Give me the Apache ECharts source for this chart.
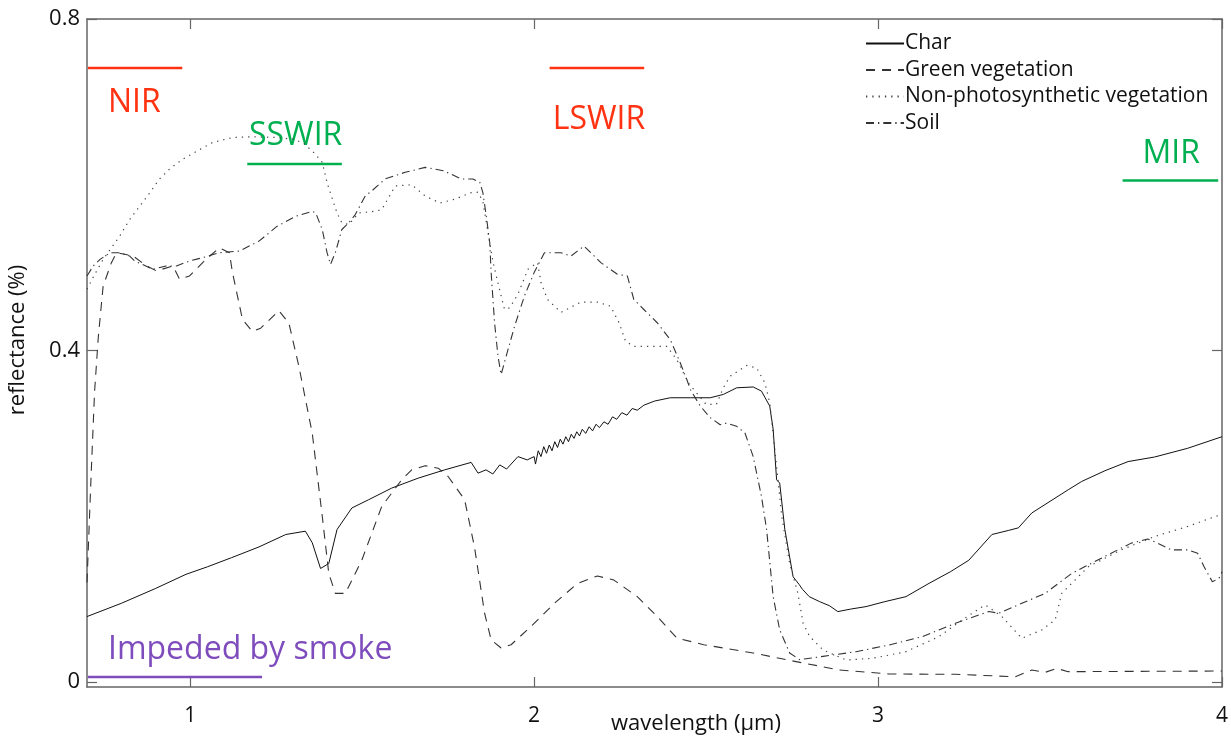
<!DOCTYPE html>
<html><head><meta charset="utf-8">
<script src="https://cdn.jsdelivr.net/npm/echarts@6/dist/echarts.min.js"></script>
<style>html,body{margin:0;padding:0;background:#fff}#c{width:1231px;height:739px}</style>
</head><body><div id="c"></div>
<script>
var seriesNames = ['Char', 'Green vegetation', 'Non-photosynthetic vegetation', 'Soil'];
var xTicks = [1, 2, 3, 4];
var yTicks = [0, 0.4, 0.8];

var charData = [[0.70,0.079],[0.80,0.095],[0.90,0.113],[0.988,0.130],[1.05,0.139],[1.12,0.150],[1.20,0.163],[1.278,0.178],[1.335,0.182],[1.355,0.168],[1.379,0.137],[1.403,0.143],[1.427,0.184],[1.47,0.210],[1.519,0.220],[1.586,0.234],[1.663,0.246],[1.74,0.256],[1.817,0.265],[1.837,0.252],[1.86,0.256],[1.88,0.251],[1.90,0.262],[1.92,0.257],[1.953,0.272],[1.98,0.268],[2.0,0.272],[2.004,0.263],[2.012,0.279],[2.02,0.272],[2.028,0.284],[2.036,0.276],[2.044,0.286],[2.052,0.279],[2.06,0.290],[2.068,0.283],[2.076,0.293],[2.084,0.287],[2.092,0.296],[2.10,0.290],[2.108,0.299],[2.116,0.294],[2.124,0.302],[2.132,0.297],[2.14,0.305],[2.15,0.300],[2.16,0.308],[2.17,0.303],[2.18,0.311],[2.19,0.307],[2.203,0.314],[2.215,0.311],[2.228,0.320],[2.24,0.317],[2.255,0.325],[2.27,0.322],[2.285,0.330],[2.30,0.328],[2.319,0.334],[2.35,0.339],[2.396,0.343],[2.454,0.343],[2.512,0.343],[2.55,0.347],[2.589,0.355],[2.637,0.356],[2.661,0.351],[2.685,0.333],[2.695,0.305],[2.705,0.244],[2.714,0.240],[2.729,0.184],[2.753,0.127],[2.77,0.118],[2.78,0.112],[2.80,0.103],[2.83,0.097],[2.859,0.092],[2.883,0.085],[2.92,0.088],[2.965,0.091],[3.02,0.097],[3.081,0.103],[3.148,0.119],[3.21,0.133],[3.264,0.147],[3.331,0.178],[3.38,0.183],[3.408,0.186],[3.447,0.204],[3.50,0.218],[3.553,0.232],[3.592,0.242],[3.66,0.255],[3.727,0.266],[3.804,0.2715],[3.90,0.282],[4.0,0.296]];

var greenData = [[0.70,0.12],[0.712,0.25],[0.722,0.35],[0.733,0.417],[0.747,0.478],[0.771,0.506],[0.786,0.518],[0.834,0.514],[0.87,0.503],[0.902,0.496],[0.95,0.502],[0.969,0.486],[0.998,0.49],[1.046,0.51],[1.085,0.524],[1.114,0.518],[1.123,0.494],[1.152,0.4375],[1.181,0.423],[1.205,0.427],[1.258,0.448],[1.287,0.433],[1.316,0.381],[1.355,0.30],[1.384,0.20],[1.403,0.131],[1.422,0.107],[1.451,0.107],[1.499,0.147],[1.557,0.212],[1.615,0.244],[1.644,0.256],[1.683,0.261],[1.721,0.258],[1.75,0.248],[1.798,0.22],[1.827,0.162],[1.856,0.083],[1.875,0.051],[1.904,0.041],[1.933,0.045],[1.991,0.067],[2.059,0.095],[2.126,0.119],[2.184,0.128],[2.232,0.123],[2.30,0.103],[2.358,0.079],[2.415,0.053],[2.493,0.045],[2.637,0.035],[2.782,0.023],[2.888,0.0145],[3.032,0.0097],[3.225,0.0093],[3.399,0.0064],[3.447,0.0145],[3.486,0.0117],[3.519,0.0165],[3.553,0.0125],[4.0,0.0133]];

var npvData = [[0.70,0.474],[0.72,0.49],[0.747,0.51],[0.795,0.538],[0.824,0.558],[0.853,0.574],[0.882,0.59],[0.911,0.607],[0.94,0.619],[0.979,0.631],[1.017,0.640],[1.065,0.651],[1.123,0.657],[1.18,0.658],[1.249,0.657],[1.30,0.655],[1.33,0.650],[1.364,0.637],[1.384,0.627],[1.398,0.6025],[1.412,0.5845],[1.427,0.566],[1.441,0.554],[1.461,0.552],[1.49,0.566],[1.538,0.568],[1.557,0.570],[1.596,0.5985],[1.644,0.600],[1.683,0.5865],[1.726,0.578],[1.769,0.5825],[1.817,0.5905],[1.837,0.591],[1.851,0.580],[1.866,0.542],[1.88,0.508],[1.89,0.49],[1.904,0.466],[1.914,0.4495],[1.929,0.4515],[1.953,0.468],[1.982,0.498],[2.01,0.506],[2.02,0.482],[2.039,0.4615],[2.078,0.446],[2.136,0.4585],[2.184,0.4585],[2.222,0.4535],[2.247,0.4335],[2.266,0.411],[2.29,0.405],[2.386,0.405],[2.415,0.389],[2.45,0.36],[2.50,0.335],[2.53,0.335],[2.55,0.355],[2.57,0.369],[2.618,0.382],[2.647,0.379],[2.671,0.361],[2.685,0.337],[2.70,0.28],[2.72,0.20],[2.743,0.143],[2.767,0.107],[2.782,0.071],[2.801,0.055],[2.84,0.0387],[2.907,0.0266],[2.984,0.0286],[3.081,0.0366],[3.177,0.0548],[3.245,0.075],[3.303,0.091],[3.312,0.093],[3.36,0.079],[3.418,0.0528],[3.476,0.0628],[3.515,0.075],[3.534,0.107],[3.611,0.139],[3.707,0.1595],[3.804,0.1756],[3.90,0.1877],[3.982,0.20],[4.0,0.202]];

var soilData = [[0.70,0.49],[0.718,0.502],[0.738,0.51],[0.767,0.518],[0.795,0.518],[0.824,0.514],[0.839,0.508],[0.892,0.498],[0.93,0.502],[0.96,0.502],[0.998,0.508],[1.036,0.512],[1.085,0.518],[1.143,0.52],[1.20,0.532],[1.253,0.550],[1.307,0.562],[1.355,0.568],[1.365,0.566],[1.384,0.546],[1.398,0.518],[1.408,0.504],[1.422,0.518],[1.441,0.546],[1.461,0.554],[1.48,0.564],[1.509,0.5865],[1.528,0.5925],[1.567,0.607],[1.625,0.615],[1.683,0.621],[1.736,0.617],[1.789,0.607],[1.822,0.607],[1.842,0.603],[1.851,0.5905],[1.861,0.562],[1.871,0.530],[1.875,0.494],[1.885,0.4335],[1.895,0.393],[1.904,0.371],[1.924,0.401],[1.943,0.429],[1.972,0.466],[2.0,0.494],[2.03,0.518],[2.078,0.518],[2.107,0.514],[2.145,0.526],[2.165,0.518],[2.194,0.506],[2.242,0.492],[2.271,0.49],[2.29,0.4615],[2.319,0.4495],[2.358,0.4335],[2.396,0.413],[2.425,0.385],[2.444,0.365],[2.454,0.353],[2.483,0.333],[2.512,0.319],[2.541,0.3105],[2.56,0.3125],[2.589,0.3085],[2.613,0.3005],[2.637,0.272],[2.661,0.224],[2.676,0.184],[2.695,0.103],[2.714,0.063],[2.743,0.035],[2.772,0.027],[2.84,0.031],[2.936,0.0366],[3.032,0.0447],[3.129,0.0548],[3.225,0.071],[3.322,0.085],[3.351,0.083],[3.418,0.095],[3.486,0.107],[3.563,0.131],[3.659,0.1515],[3.736,0.1676],[3.784,0.1725],[3.813,0.1676],[3.852,0.1595],[3.90,0.1595],[3.929,0.1555],[3.948,0.139],[3.972,0.121],[3.991,0.125],[4.0,0.133]];

// spectral band ranges (µm) and the reflectance level at which each bar is drawn
var bandNames = ['NIR', 'SSWIR', 'LSWIR', 'MIR', 'Impeded by smoke'];
var bandStart = [0.703, 1.166, 2.045, 3.711, 0.703];
var bandEnd = [0.977, 1.441, 2.32, 3.989, 1.209];
var bandLevel = [0.741, 0.625, 0.741, 0.605, 0.006];
var bandLabelX = [0.761, 1.171, 2.054, 3.769, 0.761];
var bandLabelY = [0.6985, 0.659, 0.678, 0.637, 0.0387];

var RED = '#ff3311', GREEN = '#00b050', PURPLE = '#7e4cbc';
var bandColors = [RED, GREEN, RED, GREEN, PURPLE];
var FONT = '"Open Sans", "Noto Sans", sans-serif';

var chart = echarts.init(document.getElementById('c'), null, {renderer: 'canvas'});

var axisLineStyle = {color: '#666', width: 1.5};
var series = [
  {name: seriesNames[0], type: 'line', data: charData, symbol: 'none', lineStyle: {color: '#111', width: 1, type: 'solid'}, itemStyle: {color: '#111'}},
  {name: seriesNames[1], type: 'line', data: greenData, symbol: 'none', lineStyle: {color: '#333', width: 1.1, type: [9, 7]}, itemStyle: {color: '#333'}},
  {name: seriesNames[2], type: 'line', data: npvData, symbol: 'none', lineStyle: {color: '#444', width: 1.2, type: [1.3, 5]}, itemStyle: {color: '#444'}},
  {name: seriesNames[3], type: 'line', data: soilData, symbol: 'none', lineStyle: {color: '#333', width: 1.1, type: [8, 4, 1.3, 4]}, itemStyle: {color: '#333'}}
];
for (var i = 0; i < bandNames.length; i++) {
  series.push({
    name: 'band-' + bandNames[i], type: 'line', symbol: 'none', silent: true,
    data: [[bandStart[i], bandLevel[i]], [bandEnd[i], bandLevel[i]]],
    lineStyle: {color: bandColors[i], width: 2.5}, z: 3
  });
}

chart.setOption({
  animation: false,
  backgroundColor: '#fff',
  grid: {left: 87, right: 3, top: 19, bottom: 52, containLabel: false},
  legend: {
    data: seriesNames, orient: 'vertical', left: 860, top: 28,
    itemWidth: 38, itemHeight: 14, itemGap: 5.5,
    itemStyle: {opacity: 0},
    textStyle: {fontSize: 21, color: '#111', fontFamily: FONT, padding: [0, 0, 0, -4]},
    inactiveColor: '#111', selectedMode: false
  },
  xAxis: [
    {type: 'value', min: 0.7, max: 4, position: 'bottom',
     axisLine: {show: true, onZero: false, lineStyle: axisLineStyle},
     axisTick: {show: true, inside: true, length: 10, customValues: xTicks, lineStyle: {color: '#666', width: 1.2}},
     axisLabel: {show: true, customValues: xTicks, margin: 19, fontSize: 21, color: '#111', fontFamily: FONT, formatter: function (v) { return String(v); }},
     splitLine: {show: false}},
    {type: 'value', min: 0.7, max: 4, position: 'top',
     axisLine: {show: true, onZero: false, lineStyle: axisLineStyle},
     axisTick: {show: true, inside: true, length: 10, customValues: xTicks, lineStyle: {color: '#666', width: 1.2}},
     axisLabel: {show: false}, splitLine: {show: false}}
  ],
  yAxis: [
    {type: 'value', min: -0.006, max: 0.8, position: 'left',
     axisLine: {show: true, onZero: false, lineStyle: axisLineStyle},
     axisTick: {show: true, inside: true, length: 10, customValues: yTicks, lineStyle: {color: '#666', width: 1.2}},
     axisLabel: {show: true, customValues: yTicks, margin: 7, fontSize: 22, color: '#111', fontFamily: FONT, formatter: function (v) { return String(Math.round(v * 10) / 10); }},
     splitLine: {show: false}},
    {type: 'value', min: -0.006, max: 0.8, position: 'right',
     axisLine: {show: true, onZero: false, lineStyle: axisLineStyle},
     axisTick: {show: true, inside: true, length: 10, customValues: yTicks, lineStyle: {color: '#666', width: 1.2}},
     axisLabel: {show: false}, splitLine: {show: false}}
  ],
  series: series
});

var graphics = [
  {type: 'text', x: 696, y: 724, silent: true, style: {text: 'wavelength (\u03bcm)', fill: '#111', font: '22px ' + FONT, align: 'center', verticalAlign: 'middle'}},
  {type: 'text', x: 18, y: 340, rotation: Math.PI / 2, silent: true, style: {text: 'reflectance (%)', fill: '#111', font: '22px ' + FONT, align: 'center', verticalAlign: 'middle'}}
];
for (var j = 0; j < bandNames.length; j++) {
  var p = chart.convertToPixel({xAxisIndex: 0, yAxisIndex: 0}, [bandLabelX[j], bandLabelY[j]]);
  graphics.push({type: 'text', x: p[0], y: p[1], silent: true,
    style: {text: bandNames[j], fill: bandColors[j], font: '32px ' + FONT, align: 'left', verticalAlign: 'middle'}});
}
chart.setOption({graphic: graphics});
</script>
</body></html>
